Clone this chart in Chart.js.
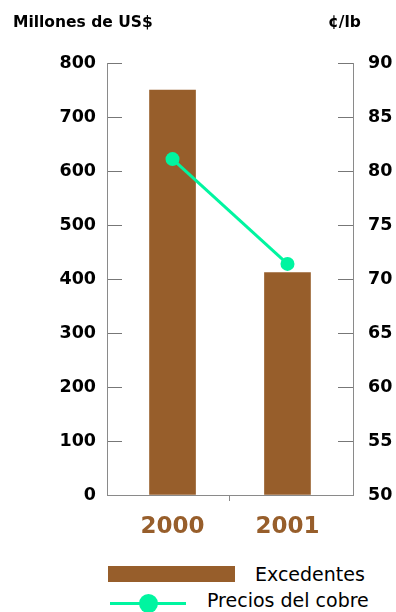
<!DOCTYPE html>
<html lang="es">
<head>
<meta charset="utf-8">
<title>Excedentes y precios del cobre</title>
<script src="https://cdn.jsdelivr.net/npm/chart.js@4/dist/chart.umd.min.js"></script>
<style>
  html, body { margin: 0; padding: 0; background: #fff; }
  #page { position: relative; width: 396px; height: 612px; overflow: hidden; font-family: "DejaVu Sans", sans-serif; }
  #plot { position: absolute; left: 0; top: 0; width: 396px; height: 540px; }
  .unit { position: absolute; font-weight: bold; font-size: 15.5px; line-height: 18px; color: #000; white-space: nowrap; }
  .leg-text { position: absolute; font-size: 19px; line-height: 22px; color: #000; white-space: nowrap; }
  .swatch { position: absolute; left: 108px; top: 566px; width: 127px; height: 16px; background: #975e2b; }
  .leg-line { position: absolute; left: 110px; top: 602px; width: 76px; height: 3px; background: #00f5a0; }
  .leg-dot { position: absolute; left: 139px; top: 594px; width: 19px; height: 19px; border-radius: 50%; background: #00f5a0; }
</style>
</head>
<body>
<div id="page">
  <div id="plot"><canvas id="chart"></canvas></div>
  <div class="unit" style="left:13px; top:13px;">Millones de US$</div>
  <div class="unit" style="left:328px; top:13px;">¢/lb</div>

  <div class="swatch"></div>
  <div class="leg-text" style="left:255px; top:563px;">Excedentes</div>
  <div class="leg-line"></div>
  <div class="leg-dot"></div>
  <div class="leg-text" style="left:207px; top:589px;">Precios del cobre</div>
</div>

<script>
// años, excedentes (millones de US$) y precio del cobre (¢/lb)
const years = ['2000', '2001'];
const surplus = [750, 412];
const copperPrice = [81.1, 71.4];

const BROWN = '#975e2b';
const GREEN = '#00f5a0';
const AXIS = '#8a8a8a';
const FONT = '"DejaVu Sans", sans-serif';

// x is a numeric index so the two years can sit a little inward from the axes
const toPoints = (arr) => arr.map((v, i) => ({ x: i, y: v }));

const ctx = document.getElementById('chart').getContext('2d');

new Chart(ctx, {
    data: {
        datasets: [
            {
                type: 'line',
                label: 'Precios del cobre',
                data: toPoints(copperPrice),
                yAxisID: 'y1',
                order: 0,
                borderColor: GREEN,
                backgroundColor: GREEN,
                borderWidth: 3,
                pointRadius: 7,
                pointBackgroundColor: GREEN,
                pointBorderWidth: 0,
                tension: 0
            },
            {
                type: 'bar',
                label: 'Excedentes',
                data: toPoints(surplus),
                yAxisID: 'y',
                order: 1,
                backgroundColor: BROWN,
                barThickness: 46
            }
        ]
    },
    options: {
        responsive: true,
        maintainAspectRatio: false,
        animation: false,
        events: [],
        layout: { padding: { top: 63, left: 0, right: 0, bottom: 0 } },
        plugins: {
            legend: { display: false },
            tooltip: { enabled: false }
        },
        scales: {
            x: {
                type: 'linear',
                offset: false,
                bounds: 'data',
                min: -0.57,
                max: 1.57,
                afterFit: (s) => { s.height = 45; },
                afterBuildTicks: (s) => {
                    s.ticks = [{ value: 0 }, { value: 0.5 }, { value: 1 }];
                },
                border: { display: true, color: AXIS, width: 1 },
                grid: {
                    offset: false,
                    drawOnChartArea: false,
                    tickLength: 6,
                    // only the tick between the two years is drawn
                    color: (c) => (c.tick && c.tick.value === 0.5 ? AXIS : 'rgba(0,0,0,0)')
                },
                ticks: {
                    color: BROWN,
                    padding: 12,
                    autoSkip: false,
                    maxRotation: 0,
                    callback: (v) => (Number.isInteger(v) ? years[v] : ''),
                    font: { family: FONT, size: 23, weight: 'bold' }
                }
            },
            y: {
                position: 'left',
                min: 0,
                max: 800,
                afterFit: (s) => { s.width = 107; },
                border: { display: true, color: AXIS, width: 1 },
                grid: { drawOnChartArea: false, tickLength: -15, color: '#777' },
                ticks: {
                    stepSize: 100,
                    color: '#000',
                    padding: 26,
                    font: { family: FONT, size: 17.5, weight: 'bold' }
                }
            },
            y1: {
                position: 'right',
                min: 50,
                max: 90,
                afterFit: (s) => { s.width = 43; },
                border: { display: true, color: AXIS, width: 1 },
                grid: { drawOnChartArea: false, tickLength: -15, color: '#777' },
                ticks: {
                    stepSize: 5,
                    color: '#000',
                    padding: 30,
                    font: { family: FONT, size: 17.5, weight: 'bold' }
                }
            }
        }
    }
});
</script>
</body>
</html>
